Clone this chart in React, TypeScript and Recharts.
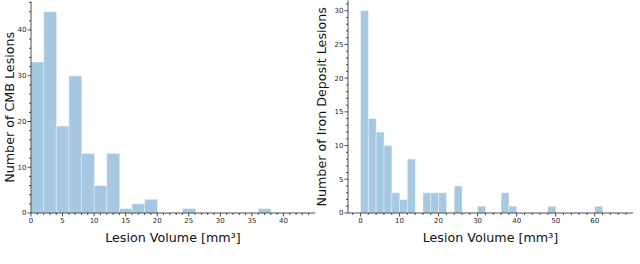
import { BarChart, Bar, XAxis, YAxis } from "recharts";

// CMB lesion volumes, 2 mm3 bins
const cmbBins = [1, 3, 5, 7, 9, 11, 13, 15, 17, 19, 21, 23, 25, 27, 29, 31, 33, 35, 37];
const cmbCounts = [33, 44, 19, 30, 13, 6, 13, 1, 2, 3, 0, 0, 1, 0, 0, 0, 0, 0, 1];

// iron deposit lesion volumes, 2 mm3 bins
const ironBins = [1, 3, 5, 7, 9, 11, 13, 15, 17, 19, 21, 23, 25, 27, 29, 31, 33, 35, 37, 39, 41, 43, 45, 47, 49, 51, 53, 55, 57, 59, 61];
const ironCounts = [30, 14, 12, 10, 3, 2, 8, 0, 3, 3, 3, 0, 4, 0, 0, 1, 0, 0, 3, 1, 0, 0, 0, 0, 1, 0, 0, 0, 0, 0, 1];

const cmbXMajor = [0, 5, 10, 15, 20, 25, 30, 35, 40];
const cmbXMinor = Array.from({ length: 45 }, (_, i) => i + 1).filter(v => v % 5 !== 0);
const cmbYMajor = [0, 10, 20, 30, 40];
const cmbYMinor = [2, 4, 6, 8, 12, 14, 16, 18, 22, 24, 26, 28, 32, 34, 36, 38, 42, 44, 46];

const ironXMajor = [0, 10, 20, 30, 40, 50, 60];
const ironXMinor = [-2, 2, 4, 6, 8, 12, 14, 16, 18, 22, 24, 26, 28, 32, 34, 36, 38, 42, 44, 46, 48, 52, 54, 56, 58, 62, 64, 66, 68];
const ironYMajor = [0, 5, 10, 15, 20, 25, 30];
const ironYMinor = Array.from({ length: 31 }, (_, i) => i + 1).filter(v => v % 5 !== 0);

const FONT = "DejaVu Sans";
const AXIS = "#222";
const BAR = "#a6c8e1";

const XTick = (props: any) => {
  const { x, y, payload, majors } = props;
  const major = majors.includes(payload.value);
  return (
    <g>
      <line x1={x} x2={x} y1={y} y2={y + (major ? 3.5 : 2)} stroke={AXIS} strokeWidth={0.8} />
      {major && (
        <text x={x} y={y + 5} dy="0.71em" textAnchor="middle" fontSize={7} fill="#262626" fontFamily={FONT}>
          {payload.value}
        </text>
      )}
    </g>
  );
};

const YTick = (props: any) => {
  const { x, y, payload, majors } = props;
  const major = majors.includes(payload.value);
  return (
    <g>
      <line x1={x - (major ? 3.5 : 2)} x2={x} y1={y} y2={y} stroke={AXIS} strokeWidth={0.8} />
      {major && (
        <text x={x - 4.5} y={y} dy="0.35em" textAnchor="end" fontSize={7} fill="#262626" fontFamily={FONT}>
          {payload.value}
        </text>
      )}
    </g>
  );
};

function Hist({ bins, counts, xDomain, yDomain, xMajor, xMinor, yMajor, yMinor, yLabel, yWidth, labelOffset, margin, width }: any) {
  const data = bins.map((b: number, i: number) => ({ x: b, n: counts[i] }));
  const xTicks = [...xMajor, ...xMinor].filter(v => v >= xDomain[0] && v <= xDomain[1]).sort((a, b) => a - b);
  const yTicks = [...yMajor, ...yMinor].filter(v => v <= yDomain[1]).sort((a, b) => a - b);
  return (
    <BarChart width={width} height={250} data={data} margin={margin} barCategoryGap={0} barGap={0}>
      <XAxis
        dataKey="x"
        type="number"
        domain={xDomain}
        allowDataOverflow
        ticks={xTicks}
        interval={0}
        tickSize={0}
        tickMargin={0}
        tickLine={false}
        height={30}
        stroke={AXIS}
        strokeWidth={0.8}
        tick={<XTick majors={xMajor} />}
        label={{ value: "Lesion Volume [mm³]", position: "insideBottom", offset: 1.5, fontSize: 12.7, fill: "#111", fontFamily: FONT }}
      />
      <YAxis
        type="number"
        domain={yDomain}
        allowDataOverflow
        ticks={yTicks}
        interval={0}
        tickSize={0}
        tickMargin={0}
        tickLine={false}
        width={yWidth}
        stroke={AXIS}
        strokeWidth={0.8}
        tick={<YTick majors={yMajor} />}
        label={{ value: yLabel, angle: -90, position: "insideLeft", offset: labelOffset, fontSize: 12.7, fill: "#111", fontFamily: FONT, style: { textAnchor: "middle" } }}
      />
      <Bar dataKey="n" fill={BAR} stroke="#ffffff" strokeWidth={0.6} strokeOpacity={0.7} isAnimationActive={false} />
    </BarChart>
  );
}

export default function App() {
  return (
    <div style={{ position: "absolute", left: 0, top: 0, width: 640, height: 264, background: "#fff", fontFamily: FONT }}>
      <div style={{ position: "absolute", left: 0, top: 0 }}>
        <Hist
          width={320}
          bins={cmbBins}
          counts={cmbCounts}
          xDomain={[0, 45]}
          yDomain={[0, 46.2]}
          xMajor={cmbXMajor}
          xMinor={cmbXMinor}
          yMajor={cmbYMajor}
          yMinor={cmbYMinor}
          yLabel="Number of CMB Lesions"
          yWidth={31}
          labelOffset={10}
          margin={{ top: 1.6, right: 5, left: 0, bottom: 7 }}
        />
      </div>
      <div style={{ position: "absolute", left: 312, top: 0 }}>
        <Hist
          width={328}
          bins={ironBins}
          counts={ironCounts}
          xDomain={[-3.2, 69.8]}
          yDomain={[0, 31.5]}
          xMajor={ironXMajor}
          xMinor={ironXMinor}
          yMajor={ironYMajor}
          yMinor={ironYMinor}
          yLabel="Number of Iron Deposit Lesions"
          yWidth={36}
          labelOffset={9.5}
          margin={{ top: 0.6, right: 7, left: 0, bottom: 7 }}
        />
      </div>
    </div>
  );
}
